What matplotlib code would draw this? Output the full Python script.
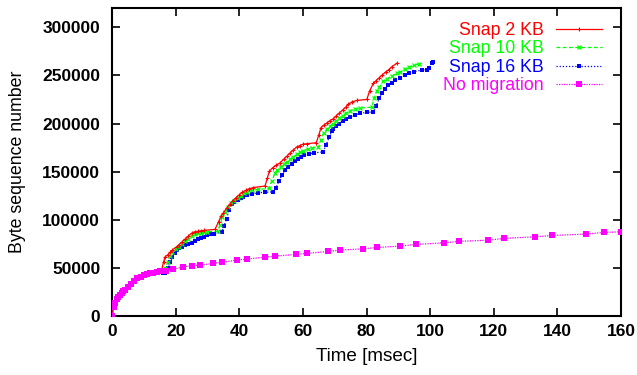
import matplotlib
matplotlib.use("Agg")
import matplotlib.pyplot as plt

plt.rcParams['font.family'] = ['Liberation Sans', 'DejaVu Sans']

# shared slow-start part (msec, bytes)
init_t = [0, 0.5, 1, 1.5, 2, 2.5, 3, 3.5, 4, 5, 6, 7, 8, 9, 10, 11, 12, 13, 14, 15]
init_y = [0, 9000, 14000, 17500, 20000, 22000, 24000, 26000, 27500, 30500, 33500,
          36500, 39000, 41000, 42500, 43500, 44500, 45000, 45800, 46500]

snap2_t = [15.6, 16.2, 16.7, 17.5, 18.2, 19, 20.3, 21, 22, 23, 24, 25, 26, 27, 28, 29, 32.4,
           33.5, 34.3, 35, 36, 37, 38, 39, 40, 41, 42, 43, 44.4, 48.1,
           48.8, 49.5, 50.5, 51.5, 52.8, 54, 55, 56, 57, 58, 59, 60, 61.2, 64.2,
           65, 65.7, 66.5, 67.5, 68.5, 69.6, 70.5, 71.5, 72.5, 73.5, 74.3, 75.5, 77, 80.1,
           81, 82.2, 83, 84, 85, 86, 87, 88, 89.5]
snap2_y = [47700, 56000, 61500, 63500, 66000, 68500, 72000, 74000, 77000, 80000, 83000, 86000, 87500, 88000, 88500, 89000, 90000,
           98000, 104000, 107000, 112000, 116000, 120000, 123000, 126000, 128500, 130500, 132000, 133500, 135000,
           143000, 150700, 154000, 156500, 159000, 163000, 166000, 169500, 172500, 175500, 177000, 178500, 179000, 180000,
           188000, 195700, 198000, 200500, 203000, 205000, 208000, 211000, 214000, 217000, 220000, 222500, 224000, 225000,
           234000, 242000, 244500, 247500, 250500, 253500, 256000, 259000, 262500]

snap10_t = [16, 16.8, 17.5, 18.2, 19, 20, 21, 22, 23, 24, 25, 26, 27, 28, 29, 30, 33.3,
            34, 34.7, 35.5, 36.5, 37.5, 38.5, 39.5, 40.5, 41.5, 42.5, 44, 46, 49.2,
            50.2, 51.3, 52, 53, 54, 55, 56, 57, 58.1, 59, 60, 61.5, 63, 64.9,
            65.7, 66.5, 67.5, 68.5, 69.5, 70.5, 71.5, 72.5, 73.5, 74.9, 76.5, 78, 81.6,
            82.4, 83.2, 84, 85.3, 86.5, 88, 89.5, 90.6, 92, 93.5, 95, 96.5]
snap10_y = [46800, 50000, 56000, 62000, 66000, 69500, 72000, 75000, 78000, 80500, 83000, 85000, 86000, 86500, 87000, 87500, 88000,
            95000, 103000, 108000, 113000, 117000, 120000, 122500, 125000, 127500, 129000, 130500, 131500, 132500,
            140000, 149000, 152000, 155000, 158000, 160500, 163000, 165500, 168000, 170000, 171500, 173500, 174500, 175500,
            183000, 190500, 194000, 197000, 200000, 203000, 205500, 208000, 211000, 213500, 215000, 216000, 217000,
            226000, 234000, 238000, 244000, 246500, 249500, 252000, 254000, 256500, 258500, 260500, 262000]

snap16_t = [16, 16.7, 17.5, 18.3, 19, 19.7, 20.3, 21, 22, 23, 24, 25, 26, 27, 28, 29, 30, 31, 32, 34.5,
            35.3, 36, 36.8, 37.6, 38.5, 39.5, 40.5, 41.3, 42.5, 44, 46, 48, 50.7,
            51.5, 52.5, 53.5, 54.4, 55.3, 56.5, 57.5, 58.5, 59.5, 60.5, 62, 63.5, 66.4,
            67.3, 68.3, 69.1, 69.6, 70.5, 71.5, 72.5, 73.5, 74.9, 76.5, 78, 80, 82.2,
            83, 84, 84.8, 85.8, 86.8, 88, 89, 90.6, 92, 93.5, 95, 97.4, 99, 99.8, 100.5, 101]
snap16_y = [45000, 45000, 50000, 56000, 61000, 65000, 68500, 70500, 72000, 73500, 74500, 76000, 78000, 80000, 81500, 82500, 84000, 85000, 85500, 87000,
            94000, 101000, 110000, 116000, 118500, 120500, 122500, 124000, 125500, 127000, 128000, 128500, 129000,
            133000, 140000, 147000, 151500, 154500, 158000, 161000, 163500, 165500, 167000, 168500, 169500, 170500,
            178000, 186000, 192000, 194500, 197000, 200000, 202500, 204500, 207000, 209000, 210500, 211500, 212000,
            218000, 226000, 232000, 236000, 239500, 242500, 245000, 247500, 250000, 252500, 254000, 255500, 256000, 258000, 262500, 264000]

nomig_t = [16, 17, 19.3, 22.4, 25, 27.7, 31.9, 34.5, 39.2, 42.4, 48.1, 51.3, 57.9, 61.2, 68, 71.7,
           79, 83.2, 90.6, 95.6, 104.5, 109, 118.3, 123.3, 133, 138.4, 149, 154.5, 160]
nomig_y = [46500, 47000, 48400, 51100, 52200, 52900, 54700, 55700, 58100, 59100, 61200, 62200, 64000, 65000, 67100, 68500,
           69800, 71200, 72600, 74400, 76000, 77500, 78800, 80600, 82300, 83700, 85100, 86800, 87500]

labels = ["Snap 2 KB", "Snap 10 KB", "Snap 16 KB", "No migration"]
colors = ["#ff0000", "#00ff00", "#0000ff", "#ff00ff"]

fig = plt.figure(figsize=(6.37, 3.75), dpi=100)
ax = fig.add_axes([112/637, 1-316/375, (621-112)/637, (316-8)/375])

ax.plot(init_t + snap2_t, init_y + snap2_y, color=colors[0], lw=0.9, ls='-',
        marker='+', ms=3.5, mew=0.8, label=labels[0], zorder=5)
ax.plot(init_t + snap10_t, init_y + snap10_y, color=colors[1], lw=0.9, ls=(0, (3, 2)),
        marker='x', ms=3, mew=0.9, label=labels[1], zorder=4)
ax.plot(init_t + snap16_t, init_y + snap16_y, color=colors[2], lw=0.9, ls=(0, (1, 1.5)),
        marker='s', ms=2.8, mew=0, label=labels[2], zorder=3)
ax.plot(init_t + nomig_t, init_y + nomig_y, color=colors[3], lw=0.9, ls=(0, (1, 1)),
        marker='s', ms=4, mew=0, label=labels[3], zorder=6)

ax.set_xlim(0, 160)
ax.set_ylim(0, 320000)
ax.set_xticks(range(0, 161, 20))
ax.set_yticks(range(0, 300001, 50000))
ax.tick_params(direction='in', length=6, width=1.2, top=True, right=True,
               labelsize=12.5)
ax.tick_params(axis='x', pad=6)
ax.tick_params(axis='y', pad=8.5)
for lab in ax.get_xticklabels() + ax.get_yticklabels():
    lab.set_fontweight('bold')
for s in ax.spines.values():
    s.set_linewidth(1.5)

ax.set_xlabel("Time [msec]", fontsize=13.6, labelpad=6)
ax.set_ylabel("Byte sequence number", fontsize=12.8, labelpad=12)

leg = ax.legend(loc='upper right', frameon=False, markerfirst=False, fontsize=12.8,
                handlelength=2.6, handletextpad=0.7, labelspacing=0.08,
                borderaxespad=0.3, bbox_to_anchor=(0.988, 0.995))
for t, c in zip(leg.get_texts(), colors):
    t.set_color(c)
for col in leg._legend_box.get_children()[1].get_children():
    col.align = 'right'

fig.savefig("out.png", dpi=100)
